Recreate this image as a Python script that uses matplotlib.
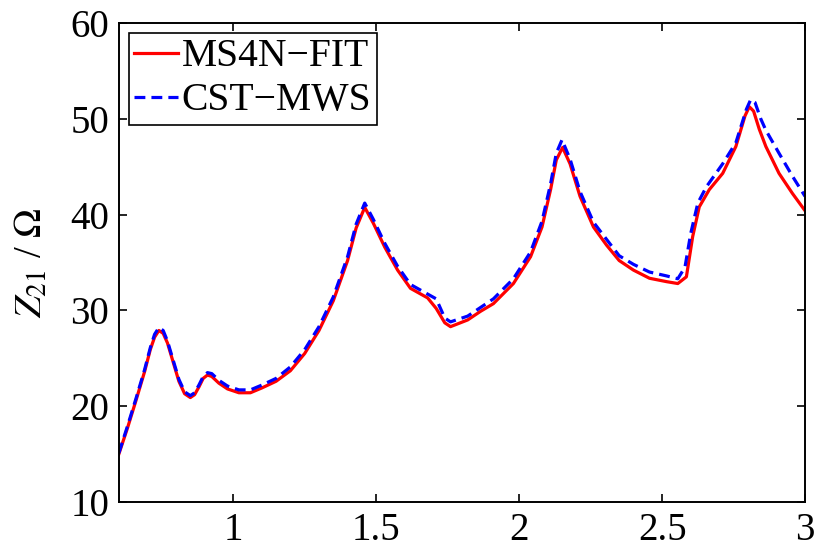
import numpy as np
import matplotlib
matplotlib.use('Agg')
import matplotlib.pyplot as plt

plt.rcParams['font.family'] = ['Liberation Serif', 'DejaVu Serif']
plt.rcParams['mathtext.fontset'] = 'stix'

# MS4N-FIT (red, solid)
fit_x = [0.6, 0.63, 0.66, 0.69, 0.71, 0.725, 0.74, 0.755, 0.77, 0.79, 0.81, 0.83, 0.85, 0.865,
         0.88, 0.895, 0.91, 0.925, 0.95, 0.98, 1.02, 1.06, 1.10, 1.15, 1.20, 1.25, 1.30, 1.35,
         1.40, 1.43, 1.46, 1.49, 1.53, 1.575, 1.62, 1.68, 1.71, 1.74, 1.76, 1.82, 1.865, 1.91,
         1.98, 2.04, 2.08, 2.11, 2.13, 2.152, 2.178, 2.213, 2.26, 2.306, 2.35, 2.40, 2.456,
         2.515, 2.555, 2.585, 2.607, 2.63, 2.665, 2.712, 2.758, 2.79, 2.805, 2.82, 2.84, 2.863,
         2.909, 2.956, 3.0]
fit_y = [15.0, 17.7, 20.6, 23.6, 25.9, 27.2, 27.9, 27.6, 26.6, 24.6, 22.6, 21.3, 20.9, 21.2,
         22.0, 22.9, 23.25, 23.1, 22.4, 21.8, 21.4, 21.4, 21.9, 22.6, 23.7, 25.5, 27.9, 31.0,
         35.2, 38.6, 40.75, 39.1, 36.6, 34.2, 32.3, 31.3, 30.2, 28.7, 28.3, 29.0, 29.9, 30.7,
         32.8, 35.6, 38.7, 42.6, 45.7, 47.0, 45.3, 41.9, 38.7, 36.8, 35.2, 34.2, 33.35,
         33.0, 32.8, 33.5, 37.7, 40.8, 42.6, 44.3, 47.1, 50.3, 51.25, 50.8, 48.9, 47.1,
         44.3, 42.2, 40.4]

# CST-MWS (blue, dashed)
cst_x = [0.6, 0.63, 0.66, 0.69, 0.71, 0.725, 0.74, 0.755, 0.77, 0.79, 0.81, 0.83, 0.85, 0.865,
         0.88, 0.895, 0.91, 0.925, 0.95, 0.98, 1.02, 1.06, 1.10, 1.15, 1.20, 1.25, 1.30, 1.35,
         1.40, 1.43, 1.46, 1.49, 1.53, 1.575, 1.62, 1.68, 1.71, 1.74, 1.76, 1.82, 1.865, 1.91,
         1.98, 2.04, 2.08, 2.11, 2.13, 2.15, 2.178, 2.213, 2.26, 2.306, 2.35, 2.40, 2.456,
         2.515, 2.555, 2.58, 2.60, 2.625, 2.655, 2.712, 2.758, 2.795, 2.81, 2.825, 2.845, 2.863,
         2.909, 2.956, 3.0]
cst_y = [15.1, 17.9, 20.8, 23.8, 26.1, 27.5, 28.2, 27.9, 26.8, 24.8, 22.8, 21.5, 21.1, 21.4,
         22.2, 23.1, 23.5, 23.4, 22.7, 22.1, 21.7, 21.7, 22.2, 22.9, 24.1, 25.9, 28.3, 31.4,
         35.6, 39.0, 41.2, 39.5, 37.0, 34.6, 32.7, 31.7, 31.2, 29.2, 28.8, 29.4, 30.3, 31.2,
         33.3, 36.1, 39.3, 43.2, 46.4, 47.8, 45.8, 42.4, 39.2, 37.4, 35.7, 34.8, 34.0,
         33.6, 33.3, 34.5, 38.0, 41.2, 42.9, 45.3, 47.5, 51.0, 52.0, 51.7, 50.0, 48.8,
         46.4, 44.0, 41.9]

xticks = [1, 1.5, 2, 2.5, 3]
xtick_labels = ['1', '1.5', '2', '2.5', '3']
yticks = [10, 20, 30, 40, 50, 60]

fig = plt.figure(figsize=(8.14, 5.5), dpi=100)
ax = fig.add_axes([0.146, 0.0873, 0.843, 0.871])

ax.plot(fit_x, fit_y, color='red', lw=2.3, label='MS4N\u2212FIT')
ax.plot(cst_x, cst_y, color='blue', lw=2.3, ls=(0, (3.4, 1.9)), label='CST\u2212MWS')

ax.set_xlim(0.6, 3)
ax.set_ylim(10, 60)
ax.set_xticks(xticks)
ax.set_xticklabels(xtick_labels)
ax.set_yticks(yticks)
ax.tick_params(direction='in', top=True, right=True, length=6, width=1.2,
               labelsize=28, pad=7)
for s in ax.spines.values():
    s.set_linewidth(1.4)

ax.set_ylabel(r'$Z_{21}$ / $\Omega$', fontsize=28, labelpad=14)

leg = ax.legend(loc='upper left', fontsize=28.5, handlelength=1.1, handletextpad=0.1,
                borderpad=0.14, labelspacing=0.18, borderaxespad=0.25,
                fancybox=False, edgecolor='black', framealpha=1)
leg.get_frame().set_linewidth(1.2)

fig.savefig('out.png', dpi=100)
